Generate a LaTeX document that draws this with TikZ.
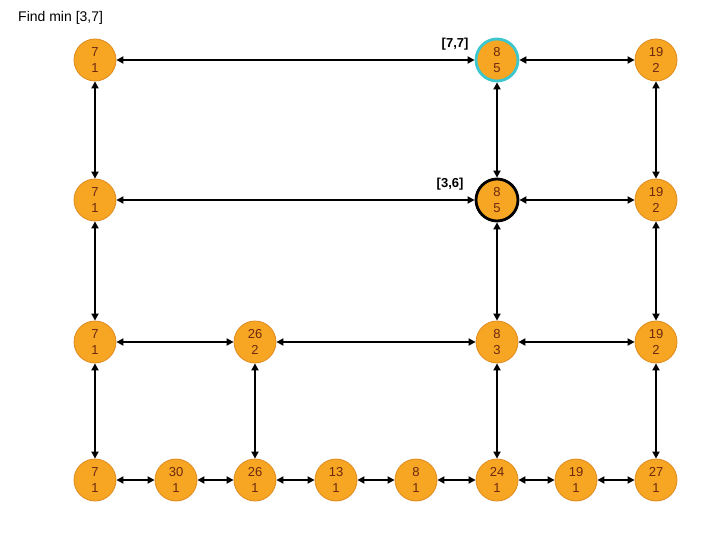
\documentclass[tikz,border=0pt]{standalone}
\usepackage{fontspec}
\setmainfont{Liberation Sans}
\usetikzlibrary{arrows.meta}
\definecolor{nfill}{RGB}{246,166,35}
\definecolor{nborder}{RGB}{224,138,30}
\definecolor{ntext}{RGB}{110,40,15}
\definecolor{hcyan}{RGB}{62,198,207}
\tikzset{
  vnode/.style={circle,fill=nfill,draw=nborder,line width=0.8pt,minimum size=42pt,inner sep=0pt,
    text=ntext,font=\fontsize{13}{16}\selectfont,align=center},
  cyanhl/.style={draw=hcyan,line width=2.8pt},
  blackhl/.style={draw=black,line width=2.8pt},
  conn/.style={line width=2pt,{Triangle[length=7pt,width=7pt]}-{Triangle[length=7pt,width=7pt]}},
  rlabel/.style={font=\bfseries\fontsize{13}{15}\selectfont,anchor=east}
}
\begin{document}
\begin{tikzpicture}[x=1pt,y=-1pt]
\useasboundingbox (0,0) rectangle (720,540);
\node[anchor=west,font=\fontsize{14}{16}\selectfont,inner sep=0pt] (title) at (18,18) {Find min [3,7]};
% row 1
\node[vnode] (a1) at (95,60) {7\\1};
\node[vnode,cyanhl] (a6) at (497,60) {8\\5};
\node[vnode] (a8) at (656,60) {19\\2};
% row 2
\node[vnode] (b1) at (95,200) {7\\1};
\node[vnode,blackhl] (b6) at (497,200) {8\\5};
\node[vnode] (b8) at (656,200) {19\\2};
% row 3
\node[vnode] (c1) at (95,342) {7\\1};
\node[vnode] (c3) at (255,342) {26\\2};
\node[vnode] (c6) at (497,342) {8\\3};
\node[vnode] (c8) at (656,342) {19\\2};
% row 4
\node[vnode] (d1) at (95,480) {7\\1};
\node[vnode] (d2) at (176,480) {30\\1};
\node[vnode] (d3) at (255,480) {26\\1};
\node[vnode] (d4) at (336,480) {13\\1};
\node[vnode] (d5) at (416,480) {8\\1};
\node[vnode] (d6) at (497,480) {24\\1};
\node[vnode] (d7) at (576,480) {19\\1};
\node[vnode] (d8) at (656,480) {27\\1};
% labels
\node[rlabel] (l1) at (472,44) {[7,7]};
\node[rlabel] (l2) at (467,184) {[3,6]};
% horizontal
\draw[conn] (a1) -- (a6);
\draw[conn] (a6) -- (a8);
\draw[conn] (b1) -- (b6);
\draw[conn] (b6) -- (b8);
\draw[conn] (c1) -- (c3);
\draw[conn] (c3) -- (c6);
\draw[conn] (c6) -- (c8);
\draw[conn] (d1) -- (d2);
\draw[conn] (d2) -- (d3);
\draw[conn] (d3) -- (d4);
\draw[conn] (d4) -- (d5);
\draw[conn] (d5) -- (d6);
\draw[conn] (d6) -- (d7);
\draw[conn] (d7) -- (d8);
% vertical
\draw[conn] (a1) -- (b1);
\draw[conn] (b1) -- (c1);
\draw[conn] (c1) -- (d1);
\draw[conn] (a6) -- (b6);
\draw[conn] (b6) -- (c6);
\draw[conn] (c6) -- (d6);
\draw[conn] (a8) -- (b8);
\draw[conn] (b8) -- (c8);
\draw[conn] (c8) -- (d8);
\draw[conn] (c3) -- (d3);
\end{tikzpicture}
\end{document}
